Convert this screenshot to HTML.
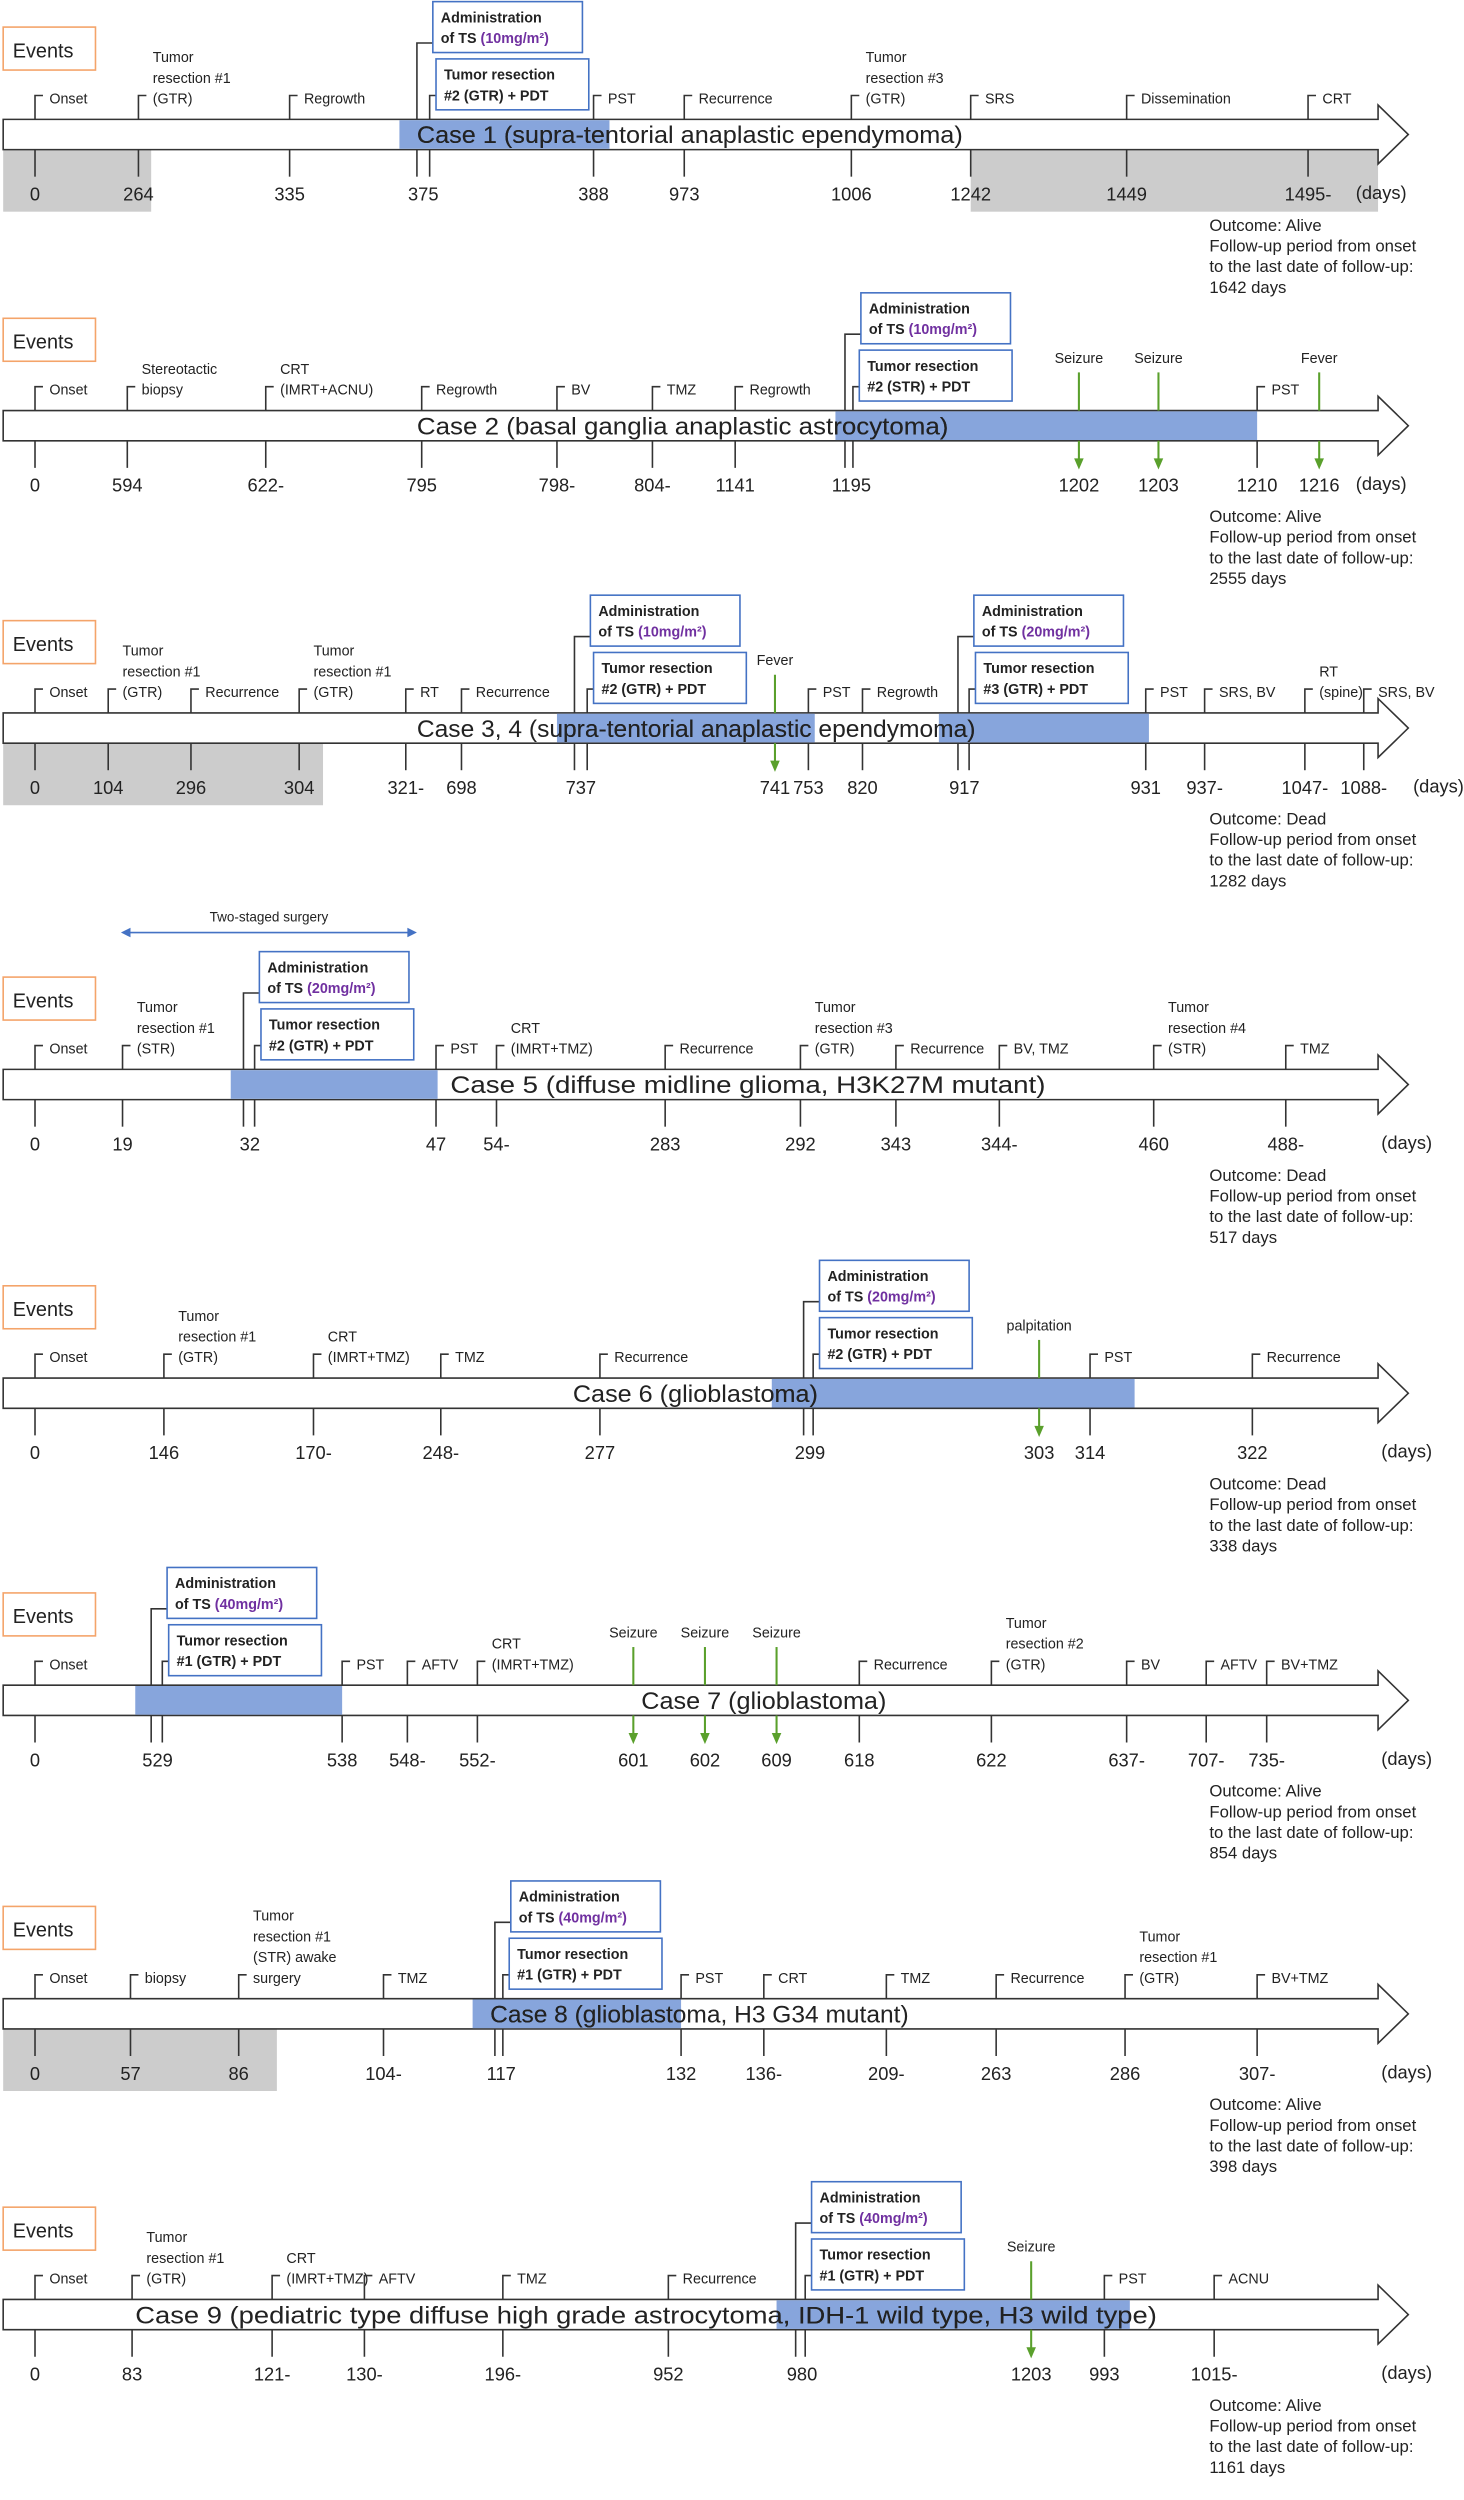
<!DOCTYPE html>
<html><head><meta charset="utf-8">
<style>
html,body{margin:0;padding:0;background:#fff;}
svg{display:block;}
text{font-family:"Liberation Sans",sans-serif;fill:#222;}
</style></head>
<body>
<svg id="chart" width="1464" height="2500" viewBox="0 0 920 1571" xmlns="http://www.w3.org/2000/svg"></svg>
<script>
// Case data: [x, label lines, day label, type]  n=normal, a=administration, t=tumor resection+PDT, g=green symptom arrow
const caseTitles = [
 "Case 1 (supra-tentorial anaplastic ependymoma)",
 "Case 2 (basal ganglia anaplastic astrocytoma)",
 "Case 3, 4 (supra-tentorial anaplastic ependymoma)",
 "Case 5 (diffuse midline glioma, H3K27M mutant)",
 "Case 6 (glioblastoma)",
 "Case 7 (glioblastoma)",
 "Case 8 (glioblastoma, H3 G34 mutant)",
 "Case 9 (pediatric type diffuse high grade astrocytoma, IDH-1 wild type, H3 wild type)"
];
const caseBase = [75, 258, 448, 672, 866, 1059, 1256, 1445];
const titleX = [262, 262, 262, 283, 360, 403, 308, 85];
const titleEnd = [605, 596, 613, 657, 514, 557, 571, 727];
const daysX = [852, 852, 888, 868, 868, 868, 868, 868];
const outcomes = ["Alive","Alive","Dead","Dead","Dead","Alive","Alive","Alive"];
const followDays = ["1642","2555","1282","517","338","854","398","1161"];
const blueSpans = [[[251,383]],[[525,790]],[[350,512],[590,722]],[[145,275]],[[485,713]],[[85,215]],[[297,428]],[[488,710]]];
const greySpans = [[[2,95],[610,866]],[],[[2,203]],[],[],[],[[2,174]],[]];
const doses = [["10"],["10"],["10","20"],["20"],["20"],["40"],["40"],["40"]];
const trLabels = [["#2 (GTR)"],["#2 (STR)"],["#2 (GTR)","#3 (GTR)"],["#2 (GTR)"],["#2 (GTR)"],["#1 (GTR)"],["#1 (GTR)"],["#1 (GTR)"]];
const events = [
 [[22,["Onset"],"0","n"],[87,["Tumor","resection #1","(GTR)"],"264","n"],[182,["Regrowth"],"335","n"],[262,[],"375","a"],[270,[],"","t"],[373,["PST"],"388","n"],[430,["Recurrence"],"973","n"],[535,["Tumor","resection #3","(GTR)"],"1006","n"],[610,["SRS"],"1242","n"],[708,["Dissemination"],"1449","n"],[822,["CRT"],"1495-","n"]],
 [[22,["Onset"],"0","n"],[80,["Stereotactic","biopsy"],"594","n"],[167,["CRT","(IMRT+ACNU)"],"622-","n"],[265,["Regrowth"],"795","n"],[350,["BV"],"798-","n"],[410,["TMZ"],"804-","n"],[462,["Regrowth"],"1141","n"],[531,[],"1195","a"],[536,[],"","t"],[678,["Seizure"],"1202","g"],[728,["Seizure"],"1203","g"],[790,["PST"],"1210","n"],[829,["Fever"],"1216","g"]],
 [[22,["Onset"],"0","n"],[68,["Tumor","resection #1","(GTR)"],"104","n"],[120,["Recurrence"],"296","n"],[188,["Tumor","resection #1","(GTR)"],"304","n"],[255,["RT"],"321-","n"],[290,["Recurrence"],"698","n"],[361,[],"737","a"],[369,[],"","t"],[487,["Fever"],"741","g"],[508,["PST"],"753","n"],[542,["Regrowth"],"820","n"],[602,[],"917","a"],[609,[],"","t"],[720,["PST"],"931","n"],[757,["SRS, BV"],"937-","n"],[820,["RT","(spine)"],"1047-","n"],[857,["SRS, BV"],"1088-","n"]],
 [[22,["Onset"],"0","n"],[77,["Tumor","resection #1","(STR)"],"19","n"],[153,[],"32","a"],[160,[],"","t"],[274,["PST"],"47","n"],[312,["CRT","(IMRT+TMZ)"],"54-","n"],[418,["Recurrence"],"283","n"],[503,["Tumor","resection #3","(GTR)"],"292","n"],[563,["Recurrence"],"343","n"],[628,["BV, TMZ"],"344-","n"],[725,["Tumor","resection #4","(STR)"],"460","n"],[808,["TMZ"],"488-","n"]],
 [[22,["Onset"],"0","n"],[103,["Tumor","resection #1","(GTR)"],"146","n"],[197,["CRT","(IMRT+TMZ)"],"170-","n"],[277,["TMZ"],"248-","n"],[377,["Recurrence"],"277","n"],[505,[],"299","a"],[511,[],"","t"],[653,["palpitation"],"303","g"],[685,["PST"],"314","n"],[787,["Recurrence"],"322","n"]],
 [[22,["Onset"],"0","n"],[95,[],"529","a"],[102,[],"","t"],[215,["PST"],"538","n"],[256,["AFTV"],"548-","n"],[300,["CRT","(IMRT+TMZ)"],"552-","n"],[398,["Seizure"],"601","g"],[443,["Seizure"],"602","g"],[488,["Seizure"],"609","g"],[540,["Recurrence"],"618","n"],[623,["Tumor","resection #2","(GTR)"],"622","n"],[708,["BV"],"637-","n"],[758,["AFTV"],"707-","n"],[796,["BV+TMZ"],"735-","n"]],
 [[22,["Onset"],"0","n"],[82,["biopsy"],"57","n"],[150,["Tumor","resection #1","(STR) awake","surgery"],"86","n"],[241,["TMZ"],"104-","n"],[311,[],"117","a"],[316,[],"","t"],[428,["PST"],"132","n"],[480,["CRT"],"136-","n"],[557,["TMZ"],"209-","n"],[626,["Recurrence"],"263","n"],[707,["Tumor","resection #1","(GTR)"],"286","n"],[790,["BV+TMZ"],"307-","n"]],
 [[22,["Onset"],"0","n"],[83,["Tumor","resection #1","(GTR)"],"83","n"],[171,["CRT","(IMRT+TMZ)"],"121-","n"],[229,["AFTV"],"130-","n"],[316,["TMZ"],"196-","n"],[420,["Recurrence"],"952","n"],[500,[],"980","a"],[506,[],"","t"],[648,["Seizure"],"1203","g"],[694,["PST"],"993","n"],[763,["ACNU"],"1015-","n"]]
];

const svg = document.getElementById('chart');
const NS = 'http://www.w3.org/2000/svg';
function mk(tag, attrs, parent){
  const el = document.createElementNS(NS, tag);
  for (const k in attrs) el.setAttribute(k, attrs[k]);
  (parent||svg).appendChild(el);
  return el;
}
function txt(x,y,s,size,parent,fill,weight,anchor){
  const t = mk('text',{x:x,y:y,'font-size':size,fill:fill||'#222','font-weight':weight||'normal','text-anchor':anchor||'start'},parent);
  t.textContent = s;
  return t;
}
const GREEN = '#5aa02c';

caseTitles.forEach((title, ci) => {
  const b = caseBase[ci];
  const g = mk('g',{});
  
  
  const eb = mk('rect',{x:2,y:b-58,width:58,height:27,fill:'#fff',stroke:'#f4a46a','stroke-width':1},g);
  
  
  txt(8,b-39,'Events',12.5,g,'#ed7d31');
  greySpans[ci].forEach(s => {
    const r = mk('rect',{x:s[0],y:b+19,width:s[1]-s[0],height:39,fill:'#cccccc'},g);
    
    
  });
  const arr = mk('path',{d:`M2 ${b} H866 V${b-9} L885 ${b+9.5} L866 ${b+28} V${b+19} H2 Z`,fill:'#fff',stroke:'#333','stroke-width':1},g);
  
  
  blueSpans[ci].forEach(s => {
    const r = mk('rect',{x:s[0],y:b+0.5,width:s[1]-s[0],height:18,fill:'#87a5dc'},g);
    
    
  });
  const tl = titleEnd[ci]-titleX[ci];
  const tt = txt(titleX[ci],b+15,title,15,g,'#222');
  tt.setAttribute('textLength', tl);
  tt.setAttribute('lengthAdjust','spacingAndGlyphs');
  
  
  const cid = 'clip'+ci;
  const cp = mk('clipPath',{id:cid},g);
  blueSpans[ci].forEach(s => mk('rect',{x:s[0],y:b,width:s[1]-s[0],height:19},cp));
  const t2 = txt(titleX[ci],b+15,title,15,g,'#2f4f9a');
  t2.setAttribute('textLength', tl);
  t2.setAttribute('lengthAdjust','spacingAndGlyphs');
  t2.setAttribute('clip-path','url(#'+cid+')');
  let boxIdx = 0;
  events[ci].forEach(ev => {
    const [x, lines, day, type] = ev;
    const eg = mk('g',{},g);
    
    
    if (type === 'n') {
      mk('path',{d:`M${x+5} ${b-15} H${x} V${b}`,fill:'none',stroke:'#333','stroke-width':1},eg);
      lines.forEach((l,i) => txt(x+9, b-10-(lines.length-1-i)*13, l, 9, eg));
      mk('line',{x1:x,y1:b+19,x2:x,y2:b+36,stroke:'#333','stroke-width':1},eg);
    } else if (type === 'g') {
      mk('line',{x1:x,y1:b-24,x2:x,y2:b,stroke:GREEN,'stroke-width':1.3},eg);
      mk('line',{x1:x,y1:b+19,x2:x,y2:b+32,stroke:GREEN,'stroke-width':1.3},eg);
      mk('path',{d:`M${x-3} ${b+30} L${x+3} ${b+30} L${x} ${b+37} Z`,fill:GREEN},eg);
      txt(x, b-30, lines[0], 9, eg, '#222', 'normal', 'middle');
    } else if (type === 'a') {
      mk('path',{d:`M${x} ${b} V${b-48} H${x+10}`,fill:'none',stroke:'#333','stroke-width':1},eg);
      mk('line',{x1:x,y1:b+19,x2:x,y2:b+36,stroke:'#333','stroke-width':1},eg);
      const bx = x+10;
      const r = mk('rect',{x:bx,y:b-74,width:94,height:32,fill:'#fff',stroke:'#4472c4','stroke-width':1},eg);
      
      
      txt(bx+5,b-61,'Administration',9,eg,'#111','bold');
      const t = txt(bx+5,b-48,'of TS ',9,eg,'#111','bold');
      const sp = document.createElementNS(NS,'tspan');
      sp.setAttribute('fill','#7030a0');
      sp.textContent = '('+doses[ci][boxIdx]+'mg/m²)';
      t.appendChild(sp);
    } else if (type === 't') {
      mk('path',{d:`M${x} ${b} V${b-15} H${x+4}`,fill:'none',stroke:'#333','stroke-width':1},eg);
      mk('line',{x1:x,y1:b+19,x2:x,y2:b+36,stroke:'#333','stroke-width':1},eg);
      const bx = x+4;
      const r = mk('rect',{x:bx,y:b-38,width:96,height:32,fill:'#fff',stroke:'#4472c4','stroke-width':1},eg);
      
      
      txt(bx+5,b-25,'Tumor resection',9,eg,'#111','bold');
      txt(bx+5,b-12,trLabels[ci][boxIdx]+'  + PDT',9,eg,'#111','bold');
      boxIdx++;
    }
    if (day) {
      const dx = type === 'a' ? x+4 : x;
      const dt = txt(dx, b+51, day, 11.5, eg, '#222', 'normal', 'middle');
      
      
    }
  });
  txt(daysX[ci], b+50, '(days)', 11.5, g);
  const og = mk('g',{},g);
  
  
  ['Outcome:  '+outcomes[ci],'Follow-up  period from onset','to the last date of follow-up:',followDays[ci]+' days'].forEach((l,i)=>txt(760,b+70+i*13,l,10.5,og));
});
const ts = mk('g',{});


mk('line',{x1:78,y1:586,x2:260,y2:586,stroke:'#4472c4','stroke-width':1},ts);
mk('path',{d:'M76 586 L82 583 L82 589 Z',fill:'#4472c4'},ts);
mk('path',{d:'M262 586 L256 583 L256 589 Z',fill:'#4472c4'},ts);
txt(169,579,'Two-staged surgery',8.5,ts,'#222','normal','middle');
</script>
</body></html>
